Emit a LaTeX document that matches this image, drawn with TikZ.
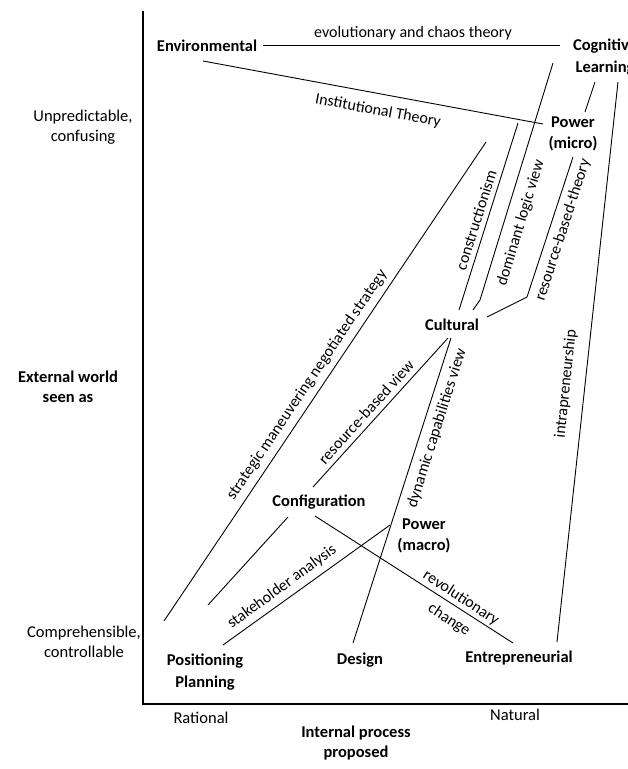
\documentclass[tikz,border=0pt]{standalone}
\usepackage{fontspec}
\setmainfont{Carlito}
\tikzstyle{school}=[font=\bfseries\fontsize{16.5}{21.5}\selectfont, align=center, inner sep=1pt]
\tikzstyle{theory}=[font=\fontsize{16}{18}\selectfont, inner sep=1pt]
\tikzstyle{side}=[font=\fontsize{16.5}{20.5}\selectfont, align=center, inner sep=1pt]
\tikzstyle{link}=[line width=0.9pt]
\begin{document}
\begin{tikzpicture}[x=1pt,y=-1pt]
\useasboundingbox (0,0) rectangle (628,769);
\fill[white] (0,0) rectangle (628,769);
% axes
\coordinate (top) at (143,11);
\coordinate (origin) at (143,704);
\coordinate (right) at (628,704);
\draw[line width=1.6pt] (top) -- (origin) -- (right);
% schools
\node[school] (env) at (207,46) {Environmental};
\node[school] (cog) at (605,57) {Cognitive\\Learning};
\node[school] (pmicro) at (573,134) {Power\\(micro)};
\node[school] (cult) at (452,325) {Cultural};
\node[school] (config) at (319,502) {Configuration};
\node[school] (pmacro) at (424,536) {Power\\(macro)};
\node[school] (pos) at (205,672) {Positioning\\Planning};
\node[school] (design) at (360,660) {Design};
\node[school] (entre) at (519,658) {Entrepreneurial};
% axis texts
\node[side] (unpred) at (83,127) {Unpredictable,\\confusing};
\node[side, font=\bfseries\fontsize{16.5}{20.5}\selectfont] (extern) at (68,387) {External world\\seen as};
\node[side] (compr) at (84,642) {Comprehensible,\\controllable};
\node[side] (rat) at (201,718) {Rational};
\node[side] (nat) at (515,715) {Natural};
\node[side, font=\bfseries\fontsize{16.5}{20.5}\selectfont] (intern) at (356,743) {Internal process\\proposed};
% line ends
\coordinate (env-e) at (263,45);
\coordinate (cog-w) at (560,45);
\coordinate (env-se) at (203,61);
\coordinate (inst-end) at (543,124);
\coordinate (cog-s1) at (595,82);
\coordinate (pmicro-n) at (585,112);
\coordinate (cog-s2) at (553,63);
\coordinate (dom-k) at (480,300);
\coordinate (cult-ne1) at (473,310);
\coordinate (cons-top) at (518,123);
\coordinate (cult-n) at (459,310);
\coordinate (pmicro-s) at (573,157);
\coordinate (rbt-k) at (527,297);
\coordinate (cult-e) at (487,317);
\coordinate (cog-se) at (618,82);
\coordinate (entre-n) at (557,642);
\coordinate (strat-top) at (486,142);
\coordinate (pos-nw) at (164,621);
\coordinate (cult-sw) at (448,338);
\coordinate (config-ne) at (313,487);
\coordinate (cult-s) at (451,338);
\coordinate (design-n) at (353,643);
\coordinate (config-sw) at (288,517);
\coordinate (pos-n) at (208,605);
\coordinate (pmacro-w) at (390,525);
\coordinate (pos-ne) at (223,645);
\coordinate (config-se) at (315,516);
\coordinate (entre-nw) at (513,643);
% connections
\draw[link] (env-e) -- (cog-w);
\draw[link] (env-se) -- (inst-end);
\draw[link] (cog-s1) -- (pmicro-n);
\draw[link] (cog-s2) -- (dom-k) -- (cult-ne1);
\draw[link] (cons-top) -- (cult-n);
\draw[link] (pmicro-s) -- (rbt-k) -- (cult-e);
\draw[link] (cog-se) -- (entre-n);
\draw[link] (strat-top) -- (pos-nw);
\draw[link] (cult-sw) -- (config-ne);
\draw[link] (cult-s) -- (design-n);
\draw[link] (config-sw) -- (pos-n);
\draw[link] (pmacro-w) -- (pos-ne);
\draw[link] (config-se) -- (entre-nw);
% theory labels
\node[theory] (evo) at (413,33) {evolutionary and chaos theory};
\node[theory, rotate=-10.5] (inst) at (378,111) {Institutional Theory};
\node[theory, rotate=73] (dom) at (521,223) {dominant logic view};
\node[theory, rotate=72.5] (cons) at (476,220) {constructionism};
\node[theory, rotate=72] (rbt) at (563,230) {resource-based-theory};
\node[theory, rotate=84] (intra) at (566,384) {intrapreneurship};
\node[theory, rotate=56] (strat) at (307,385) {strategic maneuvering negotiated strategy};
\node[theory, rotate=48] (rbv) at (366,412) {resource-based view};
\node[theory, rotate=72.4] (dcv) at (437,428) {dynamic capabilities view};
\node[theory, rotate=36] (stake) at (282,587) {stakeholder analysis};
\node[theory, rotate=-33] (revo) at (461,598) {revolutionary};
\node[theory, rotate=-33] (chg) at (449,620) {change};
\end{tikzpicture}
\end{document}
